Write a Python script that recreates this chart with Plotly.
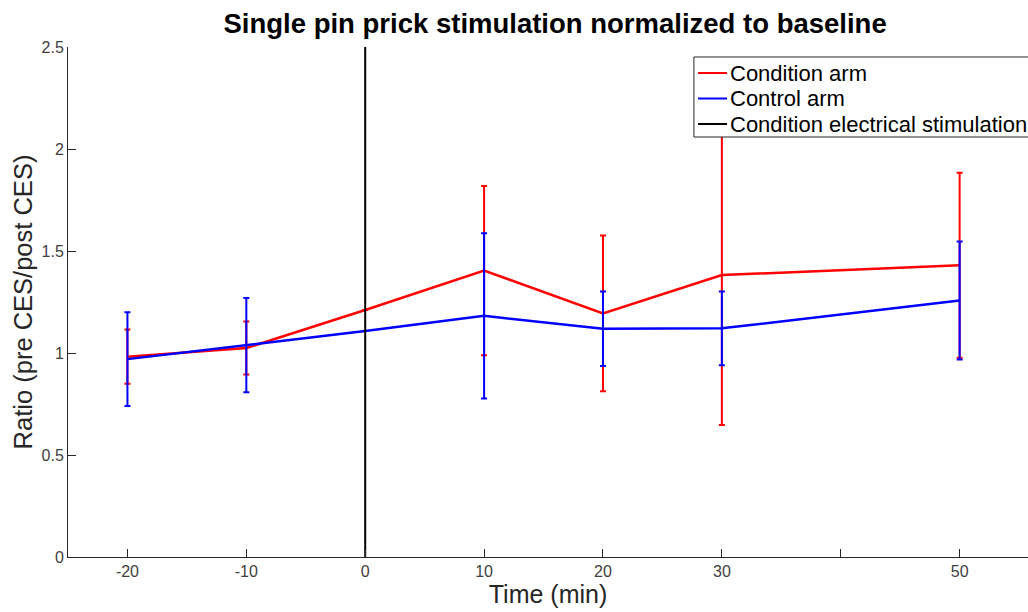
import plotly.graph_objects as go

# Data
time_min = [-20, -10, 0, 10, 20, 30, 50]
condition_mean = [0.982, 1.024, 1.211, 1.404, 1.194, 1.382, 1.430]
condition_err = [0.133, 0.130, None, 0.415, 0.382, 0.735, 0.453]
control_mean = [0.970, 1.038, 1.108, 1.182, 1.119, 1.121, 1.257]
control_err = [0.230, 0.231, None, 0.405, 0.183, 0.181, 0.289]
stim_x = [0, 0]
stim_y = [0, 2.5]

series_names = ["Condition arm", "Control arm", "Condition electrical stimulation"]

x_tickvals = [-20, -10, 0, 10, 20, 30, 40, 50]
x_ticktext = ["-20", "-10", "0", "10", "20", "30", "", "50"]
y_tickvals = [0, 0.5, 1, 1.5, 2, 2.5]
y_ticktext = ["0", "0.5", "1", "1.5", "2", "2.5"]

RED = "rgb(255,0,0)"
BLUE = "rgb(0,0,255)"
BLACK = "black"
AX = "#262626"
series_colors = [RED, BLUE, BLACK]

fig = go.Figure()
fig.add_trace(go.Scatter(
    x=time_min, y=condition_mean, mode="lines", name=series_names[0],
    line=dict(color=RED, width=2.5), showlegend=False,
    error_y=dict(type="data", array=condition_err, visible=True,
                 color=RED, thickness=2, width=3),
))
fig.add_trace(go.Scatter(
    x=time_min, y=control_mean, mode="lines", name=series_names[1],
    line=dict(color=BLUE, width=2.5), showlegend=False,
    error_y=dict(type="data", array=control_err, visible=True,
                 color=BLUE, thickness=2, width=3),
))
fig.add_trace(go.Scatter(
    x=stim_x, y=stim_y, mode="lines", name=series_names[2],
    line=dict(color=BLACK, width=2), showlegend=False,
))

# MATLAB-style compact legend box (drawn as layout decoration, paper coords)
leg_x0, leg_x1, leg_y0, leg_y1 = 0.652, 1.004, 0.8235, 0.9804
row_y = [0.949, 0.899, 0.849]
fig.add_shape(type="rect", xref="paper", yref="paper",
              x0=leg_x0, x1=leg_x1, y0=leg_y0, y1=leg_y1,
              fillcolor="white", line=dict(color=AX, width=1), layer="above")
for name, col, ry in zip(series_names, series_colors, row_y):
    fig.add_shape(type="line", xref="paper", yref="paper",
                  x0=0.6563, x1=0.6865, y0=ry, y1=ry,
                  line=dict(color=col, width=2), layer="above")
    fig.add_annotation(text=name, xref="paper", yref="paper",
                       x=0.6875, y=ry, xanchor="left", yanchor="middle",
                       showarrow=False, font=dict(size=22, color="black"))

fig.update_layout(
    width=1028, height=612,
    margin=dict(l=68, r=0, t=47, b=55, autoexpand=False),
    plot_bgcolor="white", paper_bgcolor="white",
    font=dict(family="Liberation Sans, Arial, sans-serif", color=AX),
    title=dict(
        text="<b>Single pin prick stimulation normalized to baseline</b>",
        x=0.54, xref="container", xanchor="center",
        y=0.962, yref="container", yanchor="middle",
        font=dict(size=27.5, color="black"),
    ),
    showlegend=False,
    xaxis=dict(
        range=[-25, 55.75], tickvals=x_tickvals, ticktext=x_ticktext,
        showline=True, linecolor=AX, linewidth=1, mirror=False,
        ticks="inside", ticklen=8, tickcolor=AX,
        showgrid=False, zeroline=False, automargin=False,
        tickfont=dict(size=16, color="#404040"),
        title=dict(text="Time (min)", font=dict(size=25, color=AX), standoff=6),
    ),
    yaxis=dict(
        range=[0, 2.5], tickvals=y_tickvals, ticktext=y_ticktext,
        showline=True, linecolor=AX, linewidth=1, mirror=False,
        ticks="inside", ticklen=8, tickcolor=AX,
        showgrid=False, zeroline=False, automargin=False,
        tickfont=dict(size=16, color="#404040"),
        title=dict(text="Ratio (pre CES/post CES)", font=dict(size=25.5, color=AX), standoff=1),
    ),
)

fig.write_html("out.html", config={"displayModeBar": False})

# remove the default page margin so the figure sits at the window's top-left corner
with open("out.html", "r", encoding="utf-8") as f:
    html = f.read()
html = html.replace("<head>", "<head><style>html,body{margin:0;padding:0;overflow:hidden;}</style>", 1)
with open("out.html", "w", encoding="utf-8") as f:
    f.write(html)
